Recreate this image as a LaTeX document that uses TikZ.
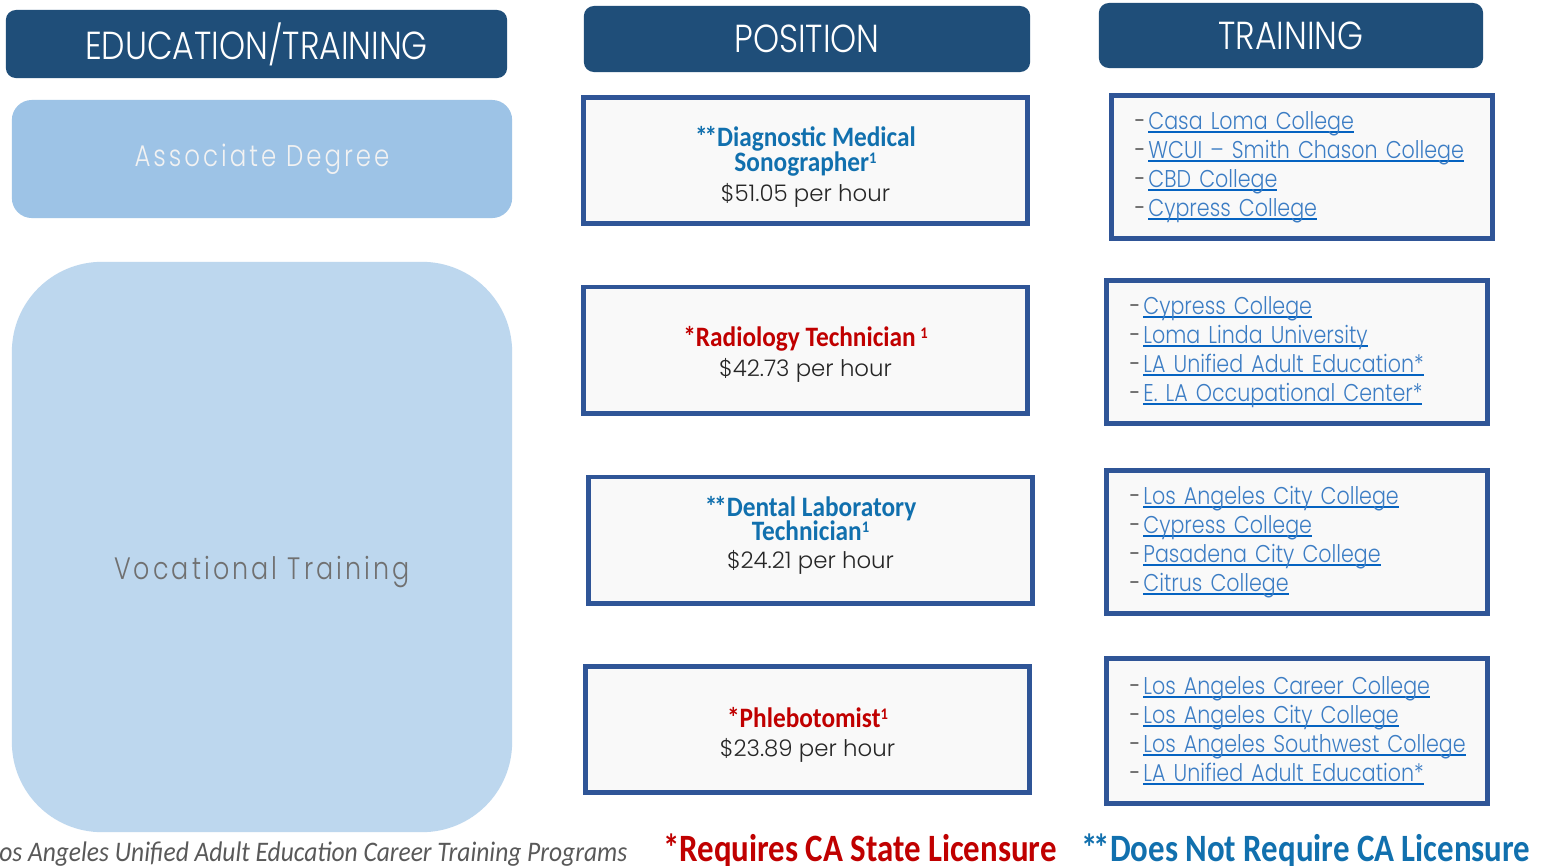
\documentclass[tikz,border=0pt]{standalone}
\usepackage{fontspec}
\usepackage{xcolor}
\usetikzlibrary{positioning,backgrounds}
\setmainfont{Poppins}
\newfontfamily\gothic{Poppins}[UprightFont=* Light,FakeStretch=0.85]
\newfontfamily\gothicw{Poppins}[UprightFont=* Light]
\newfontfamily\spaced{Poppins}[UprightFont=* Light,FakeStretch=0.82,LetterSpace=10]
\newfontfamily\calib{Carlito}[FakeStretch=0.9]
\newfontfamily\calibn{Carlito}[FakeStretch=0.85]
\definecolor{headblue}{HTML}{1F4E79}
\definecolor{degblue}{HTML}{9DC3E6}
\definecolor{vocblue}{HTML}{BDD7EE}
\definecolor{boxline}{HTML}{2F5597}
\definecolor{boxfill}{HTML}{F9F9F9}
\definecolor{linkgray}{HTML}{A6A6A6}
\definecolor{titleblue}{HTML}{1170AE}
\definecolor{titlered}{HTML}{C00000}
\definecolor{linktext}{HTML}{3C7DC4}
\definecolor{linkline}{HTML}{0563C1}
\definecolor{vocgray}{HTML}{707070}
\newsavebox{\schoolbox}
\newcommand{\one}{\raisebox{2.2pt}{\fontsize{4.6}{5}\selectfont 1}}
\newcommand{\stars}{*\kern-0.9pt*}
\newcommand{\ttlb}[1]{{\calib\bfseries\fontsize{8}{7.1}\selectfont\color{titleblue}#1}}
\newcommand{\ttlr}[1]{{\calib\bfseries\fontsize{8}{7.1}\selectfont\color{titlered}#1}}
\newcommand{\wage}[1]{{\gothicw\fontsize{6.5}{7.1}\selectfont\color{black!85}\$#1 per hour}}
\newcommand{\school}[1]{\mbox{{\color{black!75}-\kern0.8pt}\sbox{\schoolbox}{\color{linktext}#1}%
  \rlap{\color{linkline}\rule[-1.1pt]{\wd\schoolbox}{0.65pt}}\usebox{\schoolbox}}}

\begin{document}
\begin{tikzpicture}[x=0.01cm,y=-0.01cm,
    head/.style={fill=headblue, rounded corners=0.1cm, text=white,
      font=\gothic\fontsize{11.1}{12}\selectfont, inner sep=0pt},
    posbox/.style={draw=boxline, line width=1.4pt, fill=boxfill,
      minimum width=4.44cm, minimum height=1.26cm, align=center, inner sep=0pt,
      font=\fontsize{8}{7.1}\selectfont},
    trnbox/.style={draw=boxline, line width=1.4pt, fill=boxfill,
      minimum height=1.43cm, text width=3.34cm, inner xsep=0.235cm, inner ysep=0pt,
      align=left, font=\gothic\fontsize{6.9}{8.25}\selectfont},
    link/.style={draw=linkgray, line width=0.08cm}]
    \path[use as bounding box, clip] (0,0) rectangle (1541,866);
    \fill[white] (0,0) rectangle (1541,866);

    % Column headers
    \node[head, minimum width=5.01cm, minimum height=0.68cm] (hedu) at (256.5,44) {EDUCATION/TRAINING};
    \node[head, minimum width=4.46cm, minimum height=0.66cm] (hpos) at (807,39) {POSITION};
    \node[head, minimum width=3.84cm, minimum height=0.65cm] (htrn) at (1291,35.5) {TRAINING};

    % Education paths
    \node[fill=degblue, rounded corners=0.2cm, minimum width=5cm, minimum height=1.18cm,
      text=white!95!black, font=\spaced\fontsize{8.5}{9}\selectfont] (deg) at (262,159) {Associate Degree};
    \node[fill=vocblue, rounded corners=0.9cm, minimum width=5cm, minimum height=5.7cm,
      label={[text=vocgray, font=\spaced\fontsize{8.8}{9}\selectfont, yshift=-0.25cm]center:Vocational Training}] (voc) at (262,547) {};

    % Positions
    \node[posbox] (pos1) at (805.5,160.5) {\rule{0pt}{9.4pt}\ttlb{\stars Diagnostic Medical}\\\ttlb{Sonographer\one}\\[1.4pt]\wage{51.05}};
    \node[posbox] (pos2) at (805.5,350) {\rule{0pt}{8pt}\ttlr{*Radiology Technician\,\one}\\[1.4pt]\wage{42.73}};
    \node[posbox] (pos3) at (810.5,540) {\ttlb{\stars Dental Laboratory}\\[-0.3pt]\ttlb{Technician\one}\\[0.9pt]\wage{24.21}\rule[-4.5pt]{0pt}{0pt}};
    \node[posbox] (pos4) at (807.5,729.5) {\rule{0pt}{8.8pt}\ttlr{*Phlebotomist\one}\\[1.4pt]\wage{23.89}};

    % Training programs
    \node[trnbox] (trn1) at (1302,167) {\school{Casa Loma College}\\\school{WCUI – Smith Chason College}\\\school{CBD College}\\\school{Cypress College}};
    \node[trnbox] (trn2) at (1297,352) {\school{Cypress College}\\\school{Loma Linda University}\\\school{LA Unified Adult Education*}\\\school{E. LA Occupational Center*}};
    \node[trnbox] (trn3) at (1297,542) {\school{Los Angeles City College}\\\school{Cypress College}\\\school{Pasadena City College}\\\school{Citrus College}};
    \node[trnbox, minimum height=1.45cm] (trn4) at (1297,731) {\school{Los Angeles Career College}\\\school{Los Angeles City College}\\\school{Los Angeles Southwest College}\\\school{LA Unified Adult Education*}};

    % Connectors
    \begin{scope}[on background layer]
      \draw[link] (deg.east) -- (deg.east -| pos1.west);
      \draw[link] (pos1.east) -- (pos1.east -| trn1.west);
      \foreach \n in {2,3,4} {
        \draw[link] (voc.east |- pos\n.west) -- (pos\n.west);
        \draw[link] (pos\n.east) -- (pos\n.east -| trn\n.west);
      }
    \end{scope}

    % Footer notes
    \node[anchor=base east, inner sep=0pt, text=black!65, font=\calib\itshape\fontsize{8.05}{9}\selectfont] (note) at (628,861) {Los Angeles Unified Adult Education Career Training Programs};
    \node[anchor=base, inner sep=0pt, text=titlered, font=\calibn\bfseries\fontsize{11}{12}\selectfont] (req) at (860,861) {*Requires CA State Licensure};
    \node[anchor=base, inner sep=0pt, text=titleblue, font=\calibn\bfseries\fontsize{11}{12}\selectfont] (noreq) at (1306,861) {*\kern-1.2pt*Does Not Require CA Licensure};
\end{tikzpicture}
\end{document}
